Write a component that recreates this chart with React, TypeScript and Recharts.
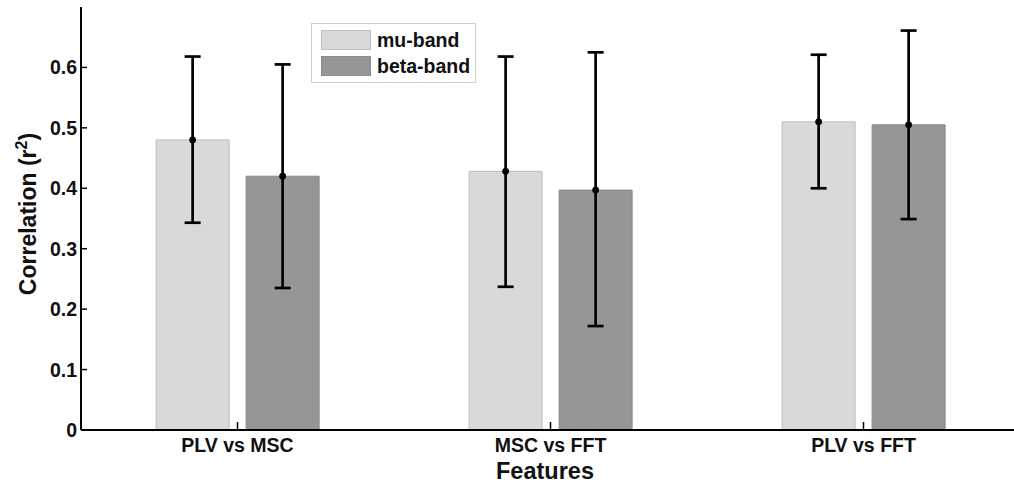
import React from 'react';
import { BarChart, Bar, XAxis, YAxis, ErrorBar, Rectangle } from 'recharts';

const categories = ['PLV vs MSC', 'MSC vs FFT', 'PLV vs FFT'];
const seriesNames = ['mu-band', 'beta-band'];
const muMean = [0.48, 0.428, 0.51];
const muLow = [0.343, 0.237, 0.4];
const muHigh = [0.618, 0.618, 0.621];
const betaMean = [0.42, 0.397, 0.505];
const betaLow = [0.235, 0.172, 0.349];
const betaHigh = [0.605, 0.625, 0.661];
const yTicks = [0, 0.1, 0.2, 0.3, 0.4, 0.5, 0.6];

const data = categories.map((c, i) => ({
  name: c,
  mu: muMean[i],
  muErr: [muMean[i] - muLow[i], muHigh[i] - muMean[i]],
  beta: betaMean[i],
  betaErr: [betaMean[i] - betaLow[i], betaHigh[i] - betaMean[i]],
}));

const FONT = '"Liberation Sans", Arial, sans-serif';
const MU_FILL = '#d9d9d9';
const MU_EDGE = '#bdbdbd';
const BETA_FILL = '#969696';
const BETA_EDGE = '#8a8a8a';

const makeShape = (stroke: string) => (props: any) => {
  const { x, y, width, height, fill } = props;
  return (
    <g>
      <Rectangle x={x} y={y} width={width} height={height} fill={fill} stroke={stroke} strokeWidth={1} />
      <circle cx={x + width / 2} cy={y} r={3.4} fill="#000" />
    </g>
  );
};

const YTick = (props: any) => {
  const { x, y, payload } = props;
  const v = payload.value;
  const label = v === 0 ? '0' : String(Number(v.toFixed(1)));
  return (
    <g>
      {v !== 0 && <line x1={x + 4} x2={x + 10} y1={y} y2={y} stroke="#000" strokeWidth={1.5} />}
      <text x={x} y={y} dy={7} textAnchor="end" fontFamily={FONT} fontWeight="bold" fontSize={19.5} fill="#111">
        {label}
      </text>
    </g>
  );
};

const XTick = (props: any) => {
  const { x, y, payload } = props;
  return (
    <g>
      <line x1={x} x2={x} y1={y} y2={y - 8} stroke="#000" strokeWidth={1.5} />
      <text x={x} y={y} dy={22} textAnchor="middle" fontFamily={FONT} fontWeight="bold" fontSize={19.5} fill="#111">
        {payload.value}
      </text>
    </g>
  );
};

const LegendBox = () => {
  const items = [
    { label: seriesNames[0], fill: MU_FILL, stroke: MU_EDGE },
    { label: seriesNames[1], fill: BETA_FILL, stroke: BETA_EDGE },
  ];
  return (
    <div
      style={{
        position: 'absolute',
        left: 311,
        top: 23,
        border: '1px solid #cfcfcf',
        background: '#fff',
        width: 165,
        height: 60,
        boxSizing: 'border-box',
        fontFamily: FONT,
      }}
    >
      {items.map((it, i) => (
        <div key={it.label} style={{ position: 'absolute', left: 9, top: 6 + i * 26, height: 20, display: 'flex', alignItems: 'center' }}>
          <div style={{ width: 50, height: 20, background: it.fill, border: `1px solid ${it.stroke}`, boxSizing: 'border-box' }} />
          <span style={{ marginLeft: 6, fontWeight: 'bold', fontSize: 19.5, color: '#111', lineHeight: '20px' }}>{it.label}</span>
        </div>
      ))}
    </div>
  );
};

export default function App() {
  return (
    <div style={{ position: 'absolute', left: 0, top: 0, width: 1014, height: 483, overflow: 'hidden', background: '#fff' }}>
      <BarChart
        width={1030}
        height={483}
        data={data}
        margin={{ top: 7, right: 10, bottom: 0, left: 0 }}
        barCategoryGap="24%"
        barGap={17}
      >
        <XAxis
          dataKey="name"
          axisLine={{ stroke: '#000', strokeWidth: 2 }}
          tickLine={false}
          tickSize={0}
          tickMargin={0}
          tick={<XTick />}
          height={53}
          label={{
            content: () => (
              <text x={545} y={479} textAnchor="middle" fontFamily={FONT} fontWeight="bold" fontSize={23.5} fill="#111">
                Features
              </text>
            ),
          }}
        />
        <YAxis
          domain={[0, 0.7]}
          ticks={yTicks}
          width={81}
          axisLine={{ stroke: '#000', strokeWidth: 2 }}
          tickLine={false}
          tickSize={0}
          tickMargin={4}
          tick={<YTick />}
          interval={0}
          label={{
            content: () => (
              <text
                x={36}
                y={214}
                transform="rotate(-90 36 214)"
                textAnchor="middle"
                fontFamily={FONT}
                fontWeight="bold"
                fontSize={23}
                fill="#111"
              >
                Correlation (r
                <tspan dy={-9} fontSize={16}>2</tspan>
                <tspan dy={9}>)</tspan>
              </text>
            ),
          }}
        />
        <Bar dataKey="mu" name={seriesNames[0]} fill={MU_FILL} isAnimationActive={false} shape={makeShape(MU_EDGE)}>
          <ErrorBar dataKey="muErr" width={8} stroke="#000" strokeWidth={2.7} direction="y" />
        </Bar>
        <Bar dataKey="beta" name={seriesNames[1]} fill={BETA_FILL} isAnimationActive={false} shape={makeShape(BETA_EDGE)}>
          <ErrorBar dataKey="betaErr" width={8} stroke="#000" strokeWidth={2.7} direction="y" />
        </Bar>
      </BarChart>
      <LegendBox />
    </div>
  );
}
